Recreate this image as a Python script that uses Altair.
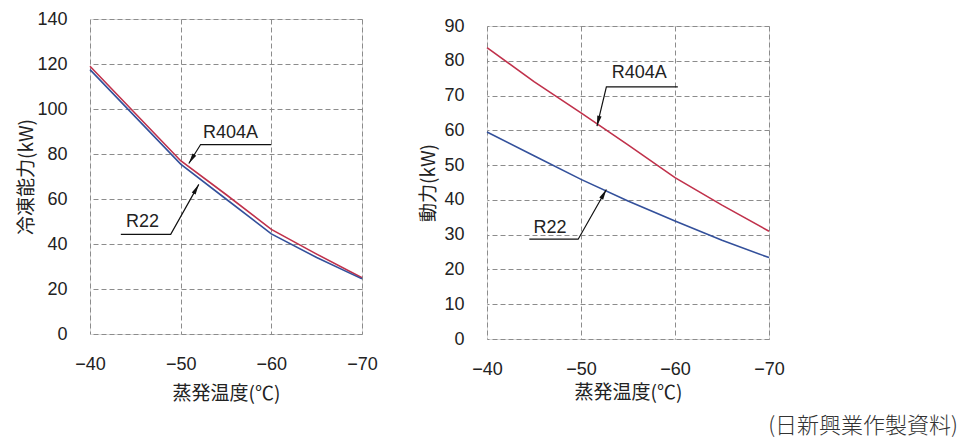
import math
import altair as alt
import pandas as pd

# ---------------- data ----------------
temps = [-40, -45, -50, -55, -60, -65, -70]
cap_r404a = [119.0, 98.0, 77.0, 62.0, 46.5, 35.5, 25.0]
cap_r22 = [117.5, 96.5, 75.5, 60.0, 44.5, 34.0, 24.5]
pow_r404a = [83.8, 74.0, 65.0, 55.8, 46.4, 38.5, 31.0]
pow_r22 = [59.5, 52.7, 45.9, 39.7, 33.9, 28.4, 23.4]

series_names = ["R404A", "R22"]
series_colors = ["#c0314b", "#33509b"]

x_ticks = [-40, -50, -60, -70]
cap_ticks = [0, 20, 40, 60, 80, 100, 120, 140]
pow_ticks = [0, 10, 20, 30, 40, 50, 60, 70, 80, 90]

x_title = "蒸発温度(℃)"
cap_title = "冷凍能力(kW)"
pow_title = "動力(kW)"
source_note = "(日新興業作製資料)"

# label position and leader polyline (start, bend, arrow tip) in data units
cap_label_names = ["R404A", "R22"]
cap_label_pos = [(-55.5, 89.5), (-45.8, 49.8)]
cap_leaders = [[(-60.0, 84.2), (-52.2, 84.2), (-50.9, 75.8)],
               [(-43.4, 44.3), (-48.9, 44.3), (-52.0, 66.5)]]

pow_label_names = ["R404A", "R22"]
pow_label_pos = [(-56.2, 76.6), (-46.7, 32.0)]
pow_leaders = [[(-60.3, 72.5), (-52.7, 72.5), (-51.7, 61.2)],
               [(-44.5, 28.7), (-49.7, 28.7), (-52.7, 43.0)]]

FONT = "Liberation Sans, Arial, Noto Sans CJK JP"
CJK = "Noto Sans CJK JP"
ARROW = "M0,-1L0.42,1L-0.42,1Z"
ARROW_SIZE = 110


def panel(a_vals, b_vals, ymax, yticks, ytitle, lab_names, lab_pos, leaders,
          width, height, x_title_pad, y_title_x, extra=None):
    df = pd.DataFrame({
        "temp": temps * 2,
        "value": a_vals + b_vals,
        "series": [series_names[0]] * len(temps) + [series_names[1]] * len(temps),
    })
    x = alt.X("temp:Q",
              scale=alt.Scale(domain=[-70, -40], reverse=True, nice=False, zero=False),
              axis=alt.Axis(values=x_ticks, title=x_title, grid=True, ticks=False,
                            domain=False, labelFlush=False, labelFontSize=18,
                            labelFont=FONT, labelColor="#222", labelPadding=21,
                            titleFont=CJK, titleFontSize=19, titleFontWeight="normal",
                            titleColor="#222", titlePadding=x_title_pad,
                            gridDash=[5, 3], gridColor="#8c8c8c", gridWidth=1))
    y = alt.Y("value:Q",
              scale=alt.Scale(domain=[0, ymax], nice=False),
              axis=alt.Axis(values=yticks, title=ytitle, grid=True, ticks=False,
                            domain=False, labelFontSize=18, labelFont=FONT,
                            labelColor="#222", labelPadding=23,
                            titleFont=CJK, titleFontSize=19, titleFontWeight="normal",
                            titleColor="#222", titleX=y_title_x,
                            gridDash=[5, 3], gridColor="#8c8c8c", gridWidth=1))

    lines = alt.Chart(df).mark_line(strokeWidth=1.6).encode(
        x=x, y=y,
        color=alt.Color("series:N", scale=alt.Scale(domain=series_names, range=series_colors),
                        legend=None),
    )

    lrows, arows = [], []
    sx = width / 30.0
    sy = height / float(ymax)
    r = math.sqrt(ARROW_SIZE) / 2.0
    for gi, pts in enumerate(leaders):
        for oi, (tx, vy) in enumerate(pts):
            lrows.append({"temp": tx, "value": vy, "grp": gi, "ord": oi})
        (bx, by), (tx, ty) = pts[-2], pts[-1]
        dx = -(tx - bx) * sx
        dy = -(ty - by) * sy
        n = math.hypot(dx, dy)
        ux, uy = dx / n, dy / n
        ang = math.degrees(math.atan2(ux, -uy)) % 360
        cx = tx + (ux * r) / sx      # move centre back along the leader
        cy = ty + (uy * r) / sy
        arows.append({"temp": cx, "value": cy, "ang": ang})

    leader = alt.Chart(pd.DataFrame(lrows)).mark_line(color="#111", strokeWidth=1.2).encode(
        x=x, y=y, detail="grp:N", order="ord:Q")
    heads = alt.Chart(pd.DataFrame(arows)).mark_point(
        shape=ARROW, filled=True, color="#111", opacity=1, size=ARROW_SIZE, strokeWidth=0
    ).encode(x=x, y=y, angle=alt.Angle("ang:Q", scale=None))
    texts = alt.Chart(pd.DataFrame({
        "temp": [p[0] for p in lab_pos],
        "value": [p[1] for p in lab_pos],
        "label": lab_names,
    })).mark_text(font=FONT, fontSize=18, color="#222", align="center",
                  baseline="middle").encode(x=x, y=y, text="label:N")

    layers = [lines, leader, heads, texts]
    if extra:
        layers += extra
    return alt.layer(*layers).properties(width=width, height=height)


left = panel(cap_r404a, cap_r22, 140, cap_ticks, cap_title, cap_label_names,
             cap_label_pos, cap_leaders, 272, 315, 11, -54)

note = alt.Chart(pd.DataFrame({"t": [source_note]})).mark_text(
    font=CJK, fontSize=22, fontWeight=300, color="#333", align="right", baseline="middle"
).encode(x=alt.value(471), y=alt.value(400), text="t:N")

right = panel(pow_r404a, pow_r22, 90, pow_ticks, pow_title, pow_label_names,
              pow_label_pos, pow_leaders, 282, 313, 5, -49, extra=[note])

spacer = alt.Chart(pd.DataFrame({"a": [0]})).mark_rule(opacity=0).encode(
    x=alt.value(0), x2=alt.value(1), y=alt.value(0)
).properties(width=282, height=1, view=alt.ViewBackground(stroke="transparent"))

right_col = alt.vconcat(spacer, right, spacing=6, bounds="flush")

chart = alt.hconcat(left, right_col, spacing=40).properties(
    padding={"left": 8, "top": 1, "right": 2, "bottom": 0}
).configure_view(stroke="#111", strokeWidth=2).configure(background="white")

chart.save("out.html", embed_options={"renderer": "svg", "actions": False})
